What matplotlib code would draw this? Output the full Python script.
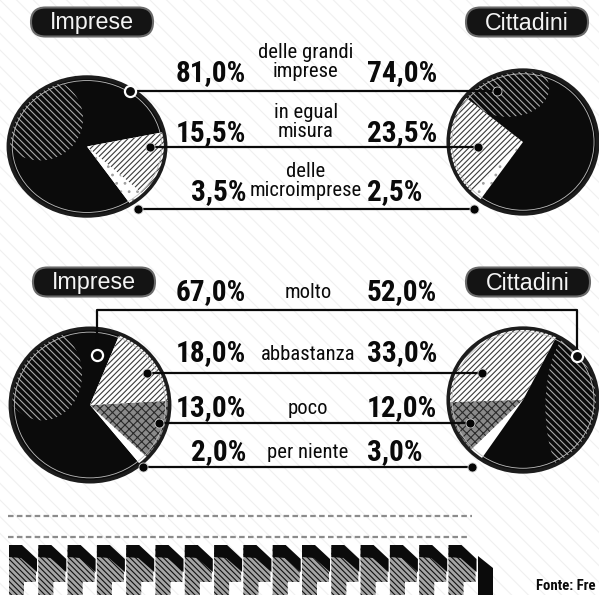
import matplotlib
matplotlib.use('Agg')
import matplotlib.pyplot as plt
from matplotlib import font_manager as fm
from matplotlib.patches import Ellipse, FancyBboxPatch, Rectangle, Polygon

# ---------------- data ----------------
categories_top = ["delle grandi\nimprese", "in egual\nmisura", "delle\nmicroimprese"]
imprese_top = [81.0, 15.5, 3.5]
cittadini_top = [74.0, 23.5, 2.5]
categories_bottom = ["molto", "abbastanza", "poco", "per niente"]
imprese_bottom = [67.0, 18.0, 13.0, 2.0]
cittadini_bottom = [52.0, 33.0, 12.0, 3.0]
group_labels = ["Imprese", "Cittadini"]
source_text = "Fonte: Fre"


def fmt(v):
    return f"{v:.1f}%".replace('.', ',')


# ---------------- fonts: look for a condensed/narrow face ----------------
def find_condensed(bold):
    prefs = ['liberationsansnarrow', 'robotocondensed', 'dejavusanscondensed',
             'opensanscondensed', 'opensans_condensed', 'notosanscondensed',
             'latocondensed', 'condensed', 'narrow']
    best, best_score = None, None
    for f in fm.fontManager.ttflist:
        n = f.fname.split('/')[-1].lower().replace('-', '').replace(' ', '')
        if not ('narrow' in n or 'condensed' in n):
            continue
        if 'italic' in n or 'oblique' in n:
            continue
        if 'semicondensed' in n or 'extracondensed' in n:
            continue
        pr = next(i for i, p in enumerate(prefs) if p in n)
        wt = f.weight if isinstance(f.weight, int) else (700 if 'bold' in str(f.weight) else 400)
        if any(w in n for w in ('semibold', 'extrabold', 'black', 'light', 'thin', 'medium')):
            wt_pen = 3
        else:
            wt_pen = 0
        want = 700 if bold else 400
        score = (pr, wt_pen + abs(wt - want) / 100.0)
        if best_score is None or score < best_score:
            best, best_score = f, score
    if best is None:
        return fm.FontProperties(family=['Liberation Sans', 'DejaVu Sans'],
                                 weight='bold' if bold else 'normal')
    return fm.FontProperties(fname=best.fname)


FP_BOLD = find_condensed(True)
FP_REG = find_condensed(False)
FP_SANS = fm.FontProperties(family=['Liberation Sans', 'DejaVu Sans'])

# ---------------- figure ----------------
W, H = 599, 595
plt.rcParams['hatch.linewidth'] = 0.8
fig = plt.figure(figsize=(W / 100, H / 100), dpi=100)
fig.patch.set_facecolor('white')
renderer = fig.canvas.get_renderer()

bg = fig.add_axes([0, 0, 1, 1], zorder=0)
bg.set_xlim(0, W); bg.set_ylim(H, 0); bg.axis('off')
bg.add_patch(Rectangle((0, 0), W, H, facecolor='white', edgecolor='#f0f0f0',
                       hatch='\\\\', lw=0))

BLACK = '#0b0b0b'
styles_top = [dict(fc=BLACK, hatch=None, ec=BLACK),
              dict(fc='white', hatch='//////', ec='#3a3a3a'),
              dict(fc='white', hatch='..', ec='#a0a0a0')]
styles_bottom = [dict(fc=BLACK, hatch=None, ec=BLACK),
                 dict(fc='white', hatch='//////', ec='#3a3a3a'),
                 dict(fc='#8a8a8a', hatch='xxxx', ec='#2a2a2a'),
                 dict(fc='white', hatch=None, ec='white')]


def draw_pie(box, values, order, start, styles, hl):
    x0, y0, x1, y1 = box
    ax = fig.add_axes([x0 / W, 1 - y1 / H, (x1 - x0) / W, (y1 - y0) / H], zorder=1)
    vals = [values[i] for i in order]
    wedges, _ = ax.pie(vals, startangle=start, counterclock=True, radius=1,
                       center=(0, 0), wedgeprops=dict(linewidth=0))
    for w, i in zip(wedges, order):
        st = styles[i]
        w.set_facecolor(st['fc'])
        w.set_edgecolor(st['ec'])
        if st['hatch']:
            w.set_hatch(st['hatch'])
        w.set_linewidth(0)
    black = wedges[order.index(0)]
    e = Ellipse(hl[:2], hl[2], hl[3], facecolor='none', edgecolor='#a8a8a8',
                hatch='\\\\\\\\\\', lw=0)
    ax.add_patch(e)
    e.set_clip_path(black)
    ax.add_patch(Ellipse((0, 0), 2, 2, facecolor='none', edgecolor='#1c1c1c', lw=2.6))
    ax.add_patch(Ellipse((0, 0), 1.9, 1.9, facecolor='none', edgecolor='#bdbdbd', lw=0.6))
    ax.set_xlim(-1.03, 1.03); ax.set_ylim(-1.03, 1.03)
    ax.set_aspect('auto'); ax.axis('off')
    return ax


draw_pie((6, 75, 168, 218), imprese_top, [0, 2, 1], 12, styles_top, (-0.6, 0.4, 1.1, 1.2))
draw_pie((446, 68, 600, 216), cittadini_top, [1, 2, 0], 141, styles_top, (-0.2, 0.75, 1.1, 0.8))
draw_pie((8, 326, 172, 484), imprese_bottom, [0, 3, 2, 1], 68, styles_bottom, (-0.6, 0.4, 1.0, 1.2))
draw_pie((446, 326, 600, 474), cittadini_bottom, [1, 2, 3, 0], 63, styles_bottom, (0.75, -0.1, 0.9, 2.2))

# ---------------- overlay ----------------
ov = fig.add_axes([0, 0, 1, 1], zorder=2)
ov.set_xlim(0, W); ov.set_ylim(H, 0); ov.axis('off')
ov.patch.set_alpha(0)


def fit_size(fp, sample, target_px, base=12.0):
    t = ov.text(0, 0, sample, fontproperties=fp, fontsize=base)
    w = t.get_window_extent(renderer).width
    t.remove()
    return base * target_px / w


S_PCT = fit_size(FP_BOLD, "81,0%", 70)
S_LAB = fit_size(FP_REG, "microimprese", 112)
S_PILL = fit_size(FP_SANS, "Imprese", 84)
S_SRC = fit_size(FP_BOLD, "Fonte: Fre", 60)


def pill(cx, cy, w, h, label):
    ov.add_patch(FancyBboxPatch((cx - w / 2, cy - h / 2), w, h,
                                boxstyle=f'round,pad=0,rounding_size={h/2}',
                                fc='#141414', ec='#6a6a6a', lw=1.5))
    ov.text(cx, cy + 1, label, color='#f4f4f4', fontproperties=FP_SANS, fontsize=S_PILL,
            ha='center', va='center')


pill(92, 22, 122, 29, group_labels[0])
pill(527, 22, 122, 29, group_labels[1])
pill(94, 282, 122, 29, group_labels[0])
pill(528, 282, 124, 29, group_labels[1])

PCT_KW = dict(fontproperties=FP_BOLD, fontsize=S_PCT, color='#0a0a0a', va='center')
LAB_KW = dict(fontproperties=FP_REG, fontsize=S_LAB, color='#0a0a0a', va='center',
              ha='center', linespacing=1.05)
LINE_KW = dict(color='#0a0a0a', lw=1.6, solid_capstyle='butt')
DOT_KW = dict(marker='o', ms=6.5, mfc='#050505', mec='#cfcfcf', mew=0.6, ls='none')
RING_KW = dict(marker='o', ms=8, mfc=BLACK, mec='white', mew=1.6, ls='none')

# top block
row_text_y = [73, 133, 192]
row_line_y = [91, 147, 209]
imp_anchor_x = [130, 150, 138]
cit_anchor_x = [497, 478, 474]
for k in range(len(categories_top)):
    ov.text(246, row_text_y[k], fmt(imprese_top[k]), ha='right', **PCT_KW)
    ov.text(367, row_text_y[k], fmt(cittadini_top[k]), ha='left', **PCT_KW)
    ov.text(306, row_text_y[k] - 11, categories_top[k], **LAB_KW)
    y = row_line_y[k]
    ov.plot([imp_anchor_x[k], cit_anchor_x[k]], [y, y], **LINE_KW)
    ov.plot([imp_anchor_x[k]], [y], **(RING_KW if k == 0 else DOT_KW))
    ov.plot([cit_anchor_x[k]], [y], **DOT_KW)

# bottom block
row_text_y_b = [292, 353, 408, 452]
row_line_y_b = [310, 373, 423, 467]
imp_anchor_b = [(97, 355), (147, 373), (159, 423), (143, 467)]
cit_anchor_b = [(577, 356), (482, 373), (470, 423), (472, 467)]
for k in range(len(categories_bottom)):
    ov.text(246, row_text_y_b[k], fmt(imprese_bottom[k]), ha='right', **PCT_KW)
    ov.text(367, row_text_y_b[k], fmt(cittadini_bottom[k]), ha='left', **PCT_KW)
    ov.text(308, row_text_y_b[k] + 1, categories_bottom[k], **LAB_KW)
    y = row_line_y_b[k]
    (xa, ya), (xb, yb) = imp_anchor_b[k], cit_anchor_b[k]
    if k == 0:
        ov.plot([xa, xa, xb, xb], [ya, y, y, yb], color='#0a0a0a', lw=1.6)
        ov.plot([xa, xb], [ya, yb], **RING_KW)
    else:
        ov.plot([xa, xb], [y, y], **LINE_KW)
        ov.plot([xa, xb], [y, y], **DOT_KW)

# faint scanned text lines
ov.plot([8, 472], [516, 516], color='#8c8c8c', lw=1.6, ls=(0, (2.5, 1.5)))
ov.plot([8, 470], [537, 537], color='#8c8c8c', lw=1.6, ls=(0, (2.5, 1.5)))

# decorative saw band
pitch = 29.3
for i in range(16):
    x0 = 9 + i * pitch
    ov.add_patch(Polygon([(x0, 548), (x0 + 27, 566), (x0 + 27, 582), (x0 + 15, 582),
                          (x0 + 15, 595), (x0, 595)], closed=True, fc='#a5a5a5',
                         ec='#111111', hatch='\\\\\\\\\\\\', lw=0))
    ov.add_patch(Polygon([(x0, 545), (x0 + 13, 545), (x0 + 28, 559), (x0 + 28, 572),
                          (x0 + 12, 558), (x0, 557)], closed=True, fc=BLACK, lw=0))
ov.add_patch(Polygon([(478, 556), (493, 568), (493, 595), (478, 595)], closed=True,
                     fc=BLACK, lw=0))

ov.text(536, 586, source_text, fontproperties=FP_BOLD, fontsize=S_SRC,
        color='#0a0a0a', ha='left', va='center')

fig.savefig('out.png', dpi=100, facecolor='white')
